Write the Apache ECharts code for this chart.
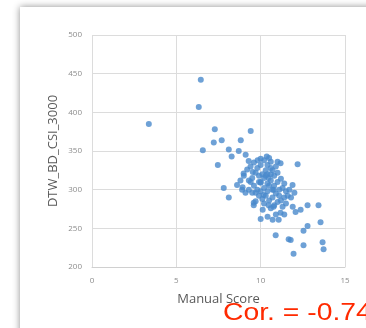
<!DOCTYPE html>
<html>
<head>
<meta charset="utf-8">
<script src="https://cdn.jsdelivr.net/npm/echarts@6/dist/echarts.min.js"></script>
<style>
  html, body { margin: 0; padding: 0; background: #fff; }
  #card {
    position: absolute; left: 20px; top: 7px; width: 420px; height: 400px;
    background: #fff; box-shadow: 0 0 7px rgba(0, 0, 0, 0.45);
  }
  #main { position: absolute; left: 0; top: 0; width: 366px; height: 328px; }
</style>
</head>
<body>
<div id="card"></div>
<div id="main"></div>
<script>
// Manual Score (x) vs DTW_BD_CSI_3000 (y)
const manualScore = [
  3.37, 6.45, 6.33, 6.57, 7.28, 7.22, 7.69, 9.41, 8.82, 8.11, 8.28, 8.70, 9.11, 7.46,
  9.29, 9.82, 10.36, 11.0, 11.18, 12.19, 8.99, 9.53, 7.81, 8.11, 8.93, 9.41, 9.59,
  10.12, 10.47, 10.18, 10.0, 10.47, 10.77, 11.89, 12.78, 13.43, 12.07, 12.37, 13.55,
  12.78, 12.54, 10.89, 11.66, 11.78, 12.54, 13.67, 13.73, 11.95, 10.0, 10.41, 10.71,
  11.07, 11.18, 10.77, 9.59,
  9.4, 9.6, 9.8, 10.0, 10.2, 10.4, 10.5, 10.6, 10.3, 10.1, 9.9, 9.7, 9.5, 9.3, 9.6,
  9.8, 10.0, 10.2, 10.4, 10.6, 10.8, 10.7, 10.9, 11.0, 11.2, 11.4, 11.1, 10.9, 10.7,
  10.5, 10.3, 10.1, 9.9, 9.7, 10.0, 10.2, 10.4, 10.6, 10.8, 11.0, 11.3, 11.5, 11.7,
  11.6, 11.4, 11.2, 11.0, 10.8, 10.6, 11.3, 11.5, 10.3, 10.5, 10.7, 9.2, 9.0, 8.8,
  8.6, 8.9, 9.1, 9.3, 9.5, 9.7, 10.9, 11.4, 11.8, 12.0, 10.0, 10.6, 10.4, 10.2, 9.9,
  11.1, 11.9
];
const dtwScore = [
  385, 442, 407, 351, 378, 361, 364, 376, 364, 352, 343, 350, 345, 332,
  337, 338, 343, 336, 334, 333, 321, 323, 302, 290, 303, 310, 283,
  274, 280, 293, 309, 315, 300, 306, 280, 280, 271, 274, 258,
  253, 247, 241, 236, 235, 228, 232, 223, 217, 262, 265, 261,
  261, 270, 278, 280,
  330, 335, 328, 340, 338, 332, 341, 336, 325, 320, 318, 322, 315, 312, 305,
  300, 298, 302, 308, 312, 318, 325, 330, 322, 314, 308, 300, 295, 290,
  286, 292, 288, 292, 296, 310, 315, 320, 328, 305, 310, 302, 298, 300,
  292, 290, 286, 284, 280, 276, 278, 282, 318, 305, 300, 326, 318, 312,
  306, 300, 296, 300, 296, 285, 268, 268, 290, 296, 332, 320, 298, 282, 310,
  292, 278
];
const corText = "Cor. = -0.74";

const chart = echarts.init(document.getElementById("main"));
const points = manualScore.map((x, i) => [x, dtwScore[i]]);

chart.setOption({
  animation: false,
  backgroundColor: "transparent",
  grid: { left: 92, right: 21, top: 35, bottom: 61 },
  xAxis: {
    type: "value",
    min: 0,
    max: 15,
    interval: 5,
    name: "Manual Score",
    nameLocation: "middle",
    nameGap: 26,
    nameMoveOverlap: false,
    nameTextStyle: { color: "#595959", fontSize: 13, fontFamily: "Open Sans" },
    axisLine: { show: true, lineStyle: { color: "#d0d0d0" } },
    axisTick: { show: false },
    axisLabel: { color: "#8c8c8c", fontSize: 8, margin: 10, fontFamily: "Open Sans" },
    splitLine: { show: true, lineStyle: { color: "#dcdcdc" } }
  },
  yAxis: {
    type: "value",
    min: 200,
    max: 500,
    interval: 50,
    name: "DTW_BD_CSI_3000",
    nameLocation: "middle",
    nameGap: 32,
    nameMoveOverlap: false,
    nameTextStyle: { color: "#595959", fontSize: 13, fontFamily: "Open Sans" },
    axisLine: { show: false },
    axisTick: { show: false },
    axisLabel: { color: "#8c8c8c", fontSize: 8, margin: 10, fontFamily: "Open Sans" },
    splitLine: { show: true, lineStyle: { color: "#dcdcdc" } }
  },
  graphic: [
    {
      type: "text",
      left: 223,
      top: 301,
      scaleX: 1.18,
      style: {
        text: corText,
        fill: "#ff2a00",
        fontSize: 24,
        fontFamily: "Liberation Sans, Arial",
        fontWeight: "normal"
      }
    }
  ],
  series: [
    {
      type: "scatter",
      data: points,
      symbolSize: 6,
      itemStyle: { color: "#4a89cc" }
    }
  ]
});
</script>
</body>
</html>
